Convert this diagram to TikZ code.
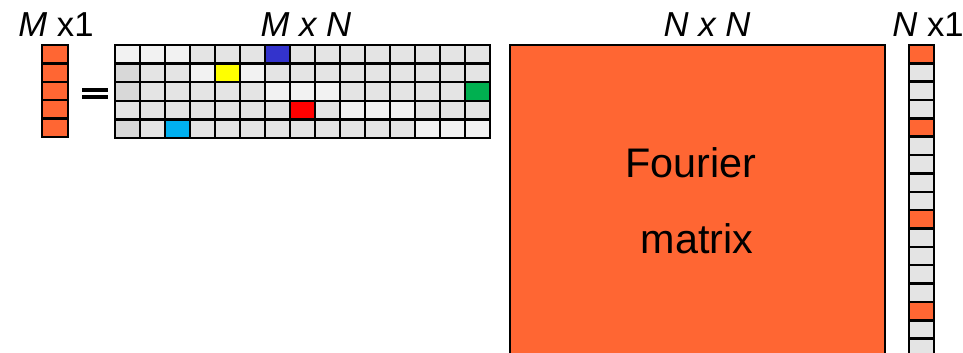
\documentclass[tikz,border=0pt]{standalone}
\usepackage{fontspec}
\setmainfont{Liberation Sans}
\definecolor{fourier}{RGB}{255,102,51}
\definecolor{lt}{HTML}{F2F2F2}
\definecolor{md}{HTML}{E4E4E4}
\definecolor{dk}{HTML}{D8D8D8}
\definecolor{bl}{RGB}{51,51,204}
\definecolor{ye}{RGB}{255,255,0}
\definecolor{rd}{RGB}{255,0,0}
\definecolor{gr}{RGB}{0,176,80}
\definecolor{cy}{RGB}{0,176,240}
\begin{document}
\begin{tikzpicture}[x=0.75pt, y=-0.75pt, cell/.style={draw=black, line width=1.9pt},
    lab/.style={anchor=base, font=\fontsize{26}{30}\selectfont, inner sep=0pt},
    big/.style={anchor=base, font=\fontsize{31}{35}\selectfont, inner sep=0pt}]
  \clip (0,0) rectangle (963,353);
  % y = M x 1
  \foreach \k in {0,...,4}
    \filldraw[cell, fill=fourier] (42,{45+18.4*\k}) rectangle ++(26,18.4);
  \fill (82,88) rectangle (108,92);
  \fill (82,95) rectangle (108,99);
  % M x N sensing matrix
  \foreach \row [count=\r from 0] in {
      {lt,lt,lt,md,md,md,bl,md,md,md,md,md,md,md,md},
      {dk,md,md,lt,ye,lt,md,md,md,md,md,md,md,md,md},
      {dk,md,md,md,md,md,lt,lt,lt,md,md,md,md,md,gr},
      {md,md,md,md,md,md,md,rd,md,lt,lt,lt,md,md,md},
      {dk,md,cy,md,md,md,md,md,md,md,md,md,lt,lt,lt}} {
    \foreach \c [count=\k from 0] in \row
      \filldraw[cell, fill=\c] ({115+25*\k},{45+18.6*\r}) rectangle ++(25,18.6);
  }
  % N x N Fourier matrix
  \filldraw[cell, fill=fourier] (510,45) rectangle (885,420);
  \node[big] (four) at (691,177) {Fourier};
  \node[big] (matr) at (697,253) {matrix};
  % N x 1 sparse vector
  \foreach \k in {0,...,17}
    \filldraw[cell, fill=md] (909,{45+18.35*\k}) rectangle ++(25,18.35);
  \foreach \k in {0,4,9,14}
    \filldraw[cell, fill=fourier] (909,{45+18.35*\k}) rectangle ++(25,18.35);
  % sizes
  \node[lab] (mlab) at (56,37) {\textit{M} x1};
  \node[lab] (mnlab) at (306,37) {\textit{M x N}};
  \node[lab] (nnlab) at (707,37) {\textit{N x N}};
  \node[lab] (nlab) at (928,37) {\textit{N} x1};
\end{tikzpicture}
\end{document}
